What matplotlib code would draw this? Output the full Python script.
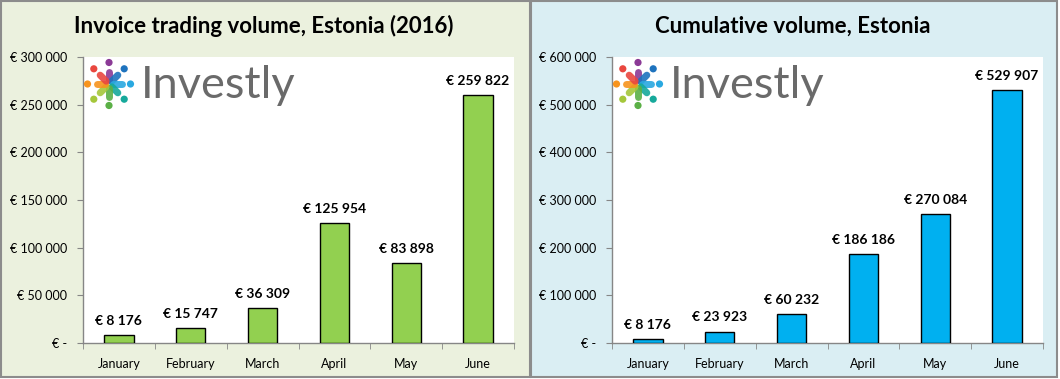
import numpy as np
import matplotlib
matplotlib.use('Agg')
import matplotlib.pyplot as plt
from matplotlib.patches import Rectangle, Circle
from matplotlib.ticker import FuncFormatter, FixedLocator

months = ['January', 'February', 'March', 'April', 'May', 'June']
monthly_volume = [8176, 15747, 36309, 125954, 83898, 259822]
cumulative_volume = [8176, 23923, 60232, 186186, 270084, 529907]

W, H = 1060, 379
plt.rcParams['font.family'] = ['Lato', 'DejaVu Sans']

fig = plt.figure(figsize=(W / 100, H / 100), dpi=100)
fig.patch.set_facecolor('white')


def px_box(x0, y0, x1, y1):
    # pixel box (top-left origin) -> figure fraction [l, b, w, h]
    return [x0 / W, 1 - y1 / H, (x1 - x0) / W, (y1 - y0) / H]


# panel backgrounds
for (x0, x1, col) in [(1, 529.5, '#EBF1DE'), (530.5, 1057, '#DAEEF3')]:
    l, b, w, h = px_box(x0, 1, x1, 377)
    fig.patches.append(Rectangle((l, b), w, h, transform=fig.transFigure,
                                 facecolor=col, edgecolor='#8C8C8C', lw=1.5, zorder=-5))


def euro(v, pos=None):
    if v == 0:
        return '€ -'
    return '€ ' + f'{int(v):,}'.replace(',', ' ')


def panel(x_off, values, color, ymax, step, title):
    ax = fig.add_axes(px_box(x_off + 83, 57, x_off + 514, 343))
    ax.set_facecolor('white')
    x = np.arange(len(months))
    ax.bar(x, values, width=0.41, color=color, edgecolor='black', linewidth=1, zorder=3)
    ax.set_xlim(-0.5, len(months) - 0.5)
    ax.set_ylim(0, ymax)
    ax.set_yticks(np.arange(0, ymax + 1, step))
    ax.yaxis.set_major_formatter(FuncFormatter(euro))
    ax.set_xticks(x)
    ax.set_xticklabels(months)
    ax.xaxis.set_minor_locator(FixedLocator(np.arange(-0.5, len(months), 1.0)))
    for s in ['top', 'right']:
        ax.spines[s].set_visible(False)
    for s in ['left', 'bottom']:
        ax.spines[s].set_color('#868686')
        ax.spines[s].set_linewidth(1)
    ax.tick_params(axis='y', length=4, color='#868686', pad=7.5, labelsize=9)
    ax.tick_params(axis='x', which='major', length=0, pad=11, labelsize=9)
    ax.tick_params(axis='x', which='minor', length=4, color='#868686')
    for xi, v in zip(x, values):
        ax.annotate(euro(v), (xi, v), xytext=(0, 6), textcoords='offset points',
                    ha='center', va='bottom', fontsize=10, fontweight='bold')
    cx = (x_off + (x_off + 527)) / 2
    fig.text(cx / W, 1 - 26 / H, title, ha='center', va='center',
             fontsize=16, fontweight='bold')
    return ax


panel(0, monthly_volume, '#92D050', 300000, 50000, 'Invoice trading volume, Estonia (2016)')
panel(529, cumulative_volume, '#00B0F0', 600000, 100000, 'Cumulative volume, Estonia')

# logo overlay (pixel coordinates)
ov = fig.add_axes([0, 0, 1, 1], facecolor='none')
ov.set_xlim(0, W)
ov.set_ylim(H, 0)
ov.axis('off')

logo_cols = ['#8B3A96', '#1E73BE', '#29A8E0', '#16A99B',
             '#5BB046', '#A5C73B', '#F7941D', '#E9473F']
logo_angles = [90, 45, 0, -45, -90, -135, 180, 135]


def logo(cx, cy):
    for ang, c in zip(logo_angles, logo_cols):
        a = np.deg2rad(ang)
        dx, dy = np.cos(a), -np.sin(a)
        ov.add_patch(Circle((cx + 21.5 * dx, cy + 21.5 * dy), 3.6, color=c, lw=0))
        ov.plot([cx + 4 * dx, cx + 12.5 * dx], [cy + 4 * dy, cy + 12.5 * dy],
                color=c, lw=5, solid_capstyle='round', alpha=0.9)
    ov.text(cx + 32, cy + 14.5, 'Investly', fontsize=32.5, fontweight='normal',
            color='#6A6A6A', ha='left', va='baseline')


logo(109, 84)
logo(638, 84)

fig.savefig('out.png', dpi=100)
